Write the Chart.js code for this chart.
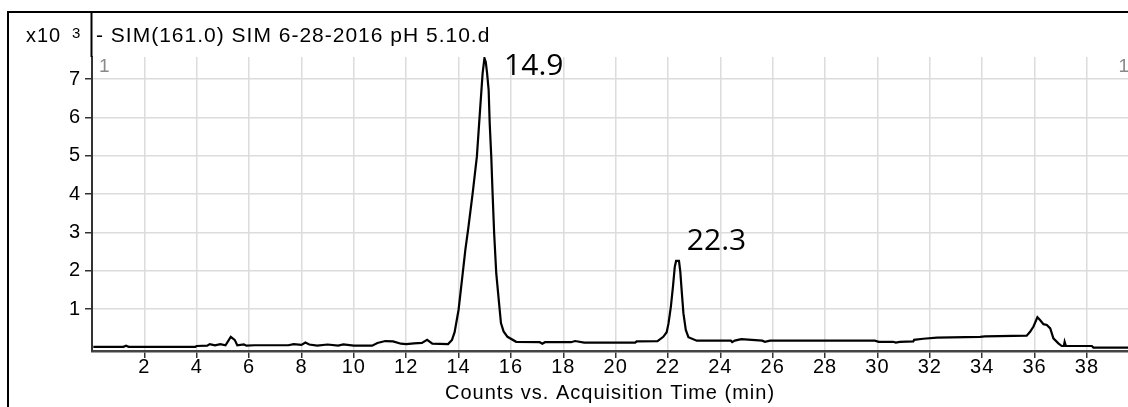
<!DOCTYPE html>
<html>
<head>
<meta charset="utf-8">
<script src="https://cdn.jsdelivr.net/npm/chart.js@4.4.0/dist/chart.umd.min.js"></script>
<style>
  html, body { margin: 0; padding: 0; background: #fff; overflow: hidden; }
  #wrap { position: relative; width: 1128px; height: 407px; }
</style>
</head>
<body>
<div id="wrap"><canvas id="chrom"></canvas></div>
<script>
// Trace: time (min) and counts (x10^3)
const times = [
  0.05, 1.2, 1.3, 1.4, 3.95, 4.0, 4.4, 4.5, 4.7, 4.9, 5.1, 5.3, 5.45, 5.55, 5.8, 5.9,
  6.2, 7.5, 7.7, 8.0, 8.15, 8.3, 8.6, 9.0, 9.4, 9.6, 10.0, 10.7, 10.9, 11.2, 11.5, 11.8,
  12.0, 12.3, 12.6, 12.8, 13.0, 13.6, 13.75, 13.85, 14.0, 14.13, 14.26, 14.37, 14.54, 14.7,
  14.83, 14.92, 14.99, 15.04, 15.09, 15.15, 15.19, 15.25, 15.3, 15.36, 15.44, 15.56, 15.62,
  15.72, 15.87, 16.2, 17.1, 17.2, 17.3, 18.3, 18.45, 18.8, 20.75, 20.8, 21.6, 21.82, 21.95,
  22.02, 22.11, 22.19, 22.26, 22.31, 22.42, 22.47, 22.53, 22.59, 22.68, 22.78, 23.1, 24.4,
  24.45, 24.55, 24.8, 25.6, 25.7, 25.9, 29.9, 30.05, 30.6, 30.7, 30.85, 31.37, 31.4, 31.75,
  32.27, 33.92, 34.1, 35.7, 35.83, 35.96, 36.11, 36.21, 36.34, 36.47, 36.6, 36.72, 36.91,
  37.04, 37.12, 37.15, 37.2, 38.19, 38.25, 39.6
];
const counts = [
  0.02, 0.02, 0.05, 0.02, 0.02, 0.04, 0.05, 0.09, 0.06, 0.09, 0.06, 0.28, 0.2, 0.06, 0.08, 0.05,
  0.06, 0.06, 0.09, 0.07, 0.13, 0.08, 0.05, 0.08, 0.05, 0.08, 0.05, 0.05, 0.12, 0.17, 0.16, 0.1,
  0.09, 0.11, 0.12, 0.2, 0.1, 0.09, 0.2, 0.4, 0.98, 1.76, 2.55, 3.1, 4.03, 4.98,
  6.28, 7.16, 7.55, 7.45, 7.16, 6.72, 5.85, 4.98, 4.03, 2.98, 1.94, 1.07, 0.64,
  0.42, 0.28, 0.15, 0.14, 0.1, 0.14, 0.14, 0.17, 0.13, 0.13, 0.16, 0.17, 0.28, 0.4,
  0.63, 1.07, 1.59, 2.11, 2.26, 2.26, 1.98, 1.42, 0.89, 0.46, 0.27, 0.18, 0.18,
  0.14, 0.18, 0.22, 0.18, 0.15, 0.18, 0.18, 0.15, 0.15, 0.13, 0.15, 0.16, 0.2, 0.23,
  0.26, 0.28, 0.29, 0.31, 0.41, 0.55, 0.79, 0.72, 0.61, 0.59, 0.5, 0.24, 0.11,
  0.04, 0.04, 0.15, 0.04, 0.04, 0.0, 0.0
];

const xTicks = [2, 4, 6, 8, 10, 12, 14, 16, 18, 20, 22, 24, 26, 28, 30, 32, 34, 36, 38];
const yTicks = [1, 2, 3, 4, 5, 6, 7];

const peakTimes = [14.9, 22.3];
const peakHeights = [7.55, 2.26];
const peakLabels = ['14.9', '22.3'];

const traceTitle = '- SIM(161.0) SIM 6-28-2016 pH 5.10.d';
const xTitle = 'Counts vs. Acquisition Time (min)';

const FONT = "'Liberation Sans', Arial, sans-serif";

const framePlugin = {
  id: 'frame',
  beforeDraw(chart) {
    const ctx = chart.ctx;
    ctx.save();
    ctx.fillStyle = '#fff';
    ctx.fillRect(0, 0, chart.width, chart.height);
    ctx.restore();
    ctx.letterSpacing = '1px';
  },
  afterDraw(chart) {
    const ctx = chart.ctx;
    const xs = chart.scales.x;
    const ys = chart.scales.y;
    const area = chart.chartArea;
    ctx.save();

    // outer frame and title separator
    ctx.strokeStyle = '#000';
    ctx.lineWidth = 2;
    ctx.beginPath();
    ctx.moveTo(8, chart.height);
    ctx.lineTo(8, 12);
    ctx.lineTo(chart.width, 12);
    ctx.moveTo(area.left - 0.5, 12);
    ctx.lineTo(area.left - 0.5, area.top);
    ctx.stroke();

    ctx.fillStyle = '#000';
    ctx.textBaseline = 'alphabetic';
    ctx.textAlign = 'left';
    ctx.font = '21px ' + FONT;
    ctx.fillText(traceTitle, 96, 42);
    ctx.font = '20px ' + FONT;
    ctx.fillText('x10', 26, 42);
    ctx.font = '15px ' + FONT;
    ctx.fillText('3', 72, 38);

    // sample markers
    ctx.fillStyle = '#8a8a8a';
    ctx.font = '19px ' + FONT;
    ctx.fillText('1', area.left + 7, area.top + 15);
    ctx.textAlign = 'right';
    ctx.fillText('1', chart.width + 2, area.top + 15);

    // peak labels
    const offsets = [[22, 8], [11, -19]];
    ctx.letterSpacing = '0px';
    ctx.fillStyle = '#000';
    ctx.textAlign = 'left';
    ctx.textBaseline = 'middle';
    ctx.font = "30px 'Open Sans', sans-serif";
    peakLabels.forEach((label, i) => {
      const px = xs.getPixelForValue(peakTimes[i]) + offsets[i][0];
      const py = ys.getPixelForValue(peakHeights[i]) + offsets[i][1];
      ctx.fillText(label, px, py);
    });
    ctx.restore();
  }
};

new Chart(document.getElementById('chrom'), {
  type: 'line',
  data: {
    datasets: [{
      data: times.map((t, i) => ({ x: t, y: counts[i] })),
      borderColor: '#000',
      borderWidth: 2.2,
      pointRadius: 0,
      tension: 0,
    }],
  },
  options: {
    responsive: true,
    maintainAspectRatio: false,
    animation: false,
    devicePixelRatio: 1,
    layout: { padding: { top: 57, left: 0, right: 0, bottom: 0 } },
    plugins: {
      legend: { display: false },
      tooltip: { enabled: false },
    },
    scales: {
      x: {
        type: 'linear',
        min: 0,
        max: 39.57,
        afterFit: s => { s.height = 56; },
        afterBuildTicks: s => { s.ticks = xTicks.map(v => ({ value: v })); },
        ticks: {
          color: '#000',
          font: { family: FONT, size: 20 },
          padding: -3,
          maxRotation: 0,
          autoSkip: false,
        },
        grid: { color: '#dcdcdc', lineWidth: 1.5, tickColor: '#333', tickLength: 7, tickWidth: 1.5 },
        border: { color: '#444', width: 2.5 },
        title: {
          display: true,
          text: xTitle,
          color: '#000',
          font: { family: FONT, size: 20 },
          padding: { top: 0, bottom: 2 },
        },
      },
      y: {
        min: -0.09,
        max: 7.58,
        afterFit: s => { s.width = 92; },
        afterBuildTicks: s => { s.ticks = yTicks.map(v => ({ value: v })); },
        ticks: {
          color: '#000',
          font: { family: FONT, size: 20 },
          padding: 4,
        },
        grid: { color: '#dcdcdc', lineWidth: 1.5, tickColor: '#333', tickLength: 7, tickWidth: 1.5 },
        border: { color: '#333', width: 2 },
      },
    },
  },
  plugins: [framePlugin],
});
</script>
</body>
</html>
